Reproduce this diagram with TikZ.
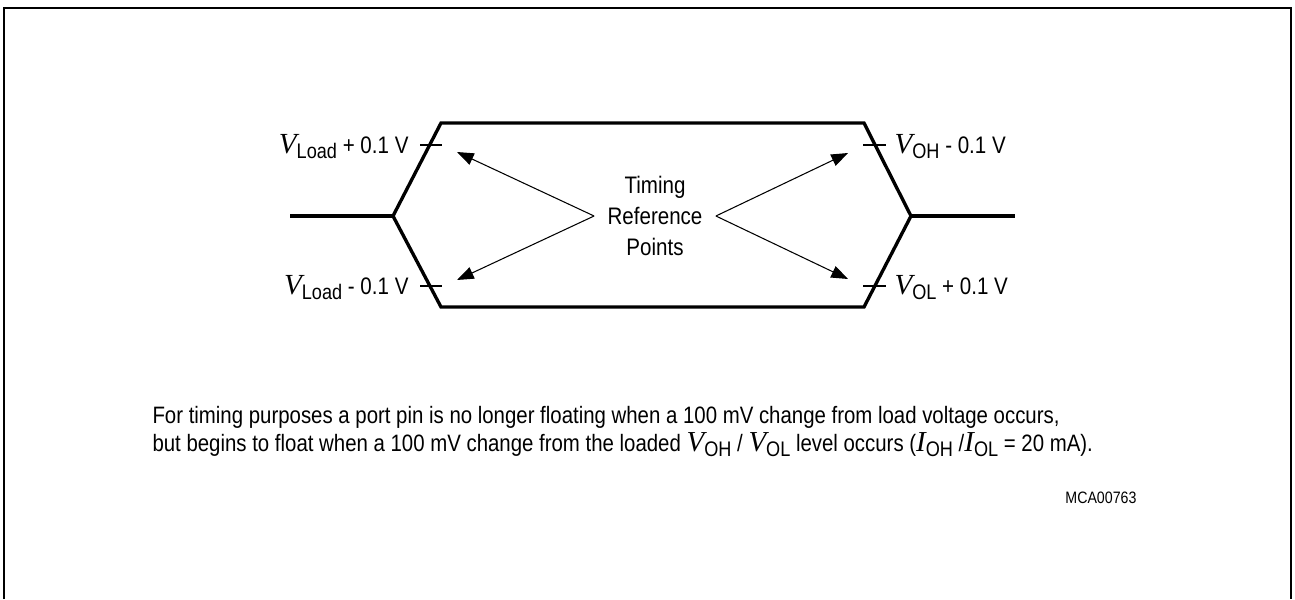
\documentclass[tikz,border=0pt]{standalone}
\usepackage{fontspec}
\setmainfont{Liberation Sans}[FakeStretch=0.86]
\newfontfamily\serifit{Liberation Serif}[Scale=1.22]
\usetikzlibrary{arrows.meta, positioning}
\newcommand{\vsym}[2]{{\serifit\itshape #1}\raisebox{-0.45ex}{\fontsize{12}{13}\selectfont #2}}
\tikzset{
  every picture/.style={line width=0.6pt},
  wave/.style={line width=1.9pt, line join=miter},
  tick/.style={line width=0.6pt},
  arrow/.style={-{Triangle[length=9.5pt, width=7pt]}, line width=0.6pt},
  lbl/.style={font=\fontsize{13.6}{17.6}\selectfont, inner sep=0pt},
  note/.style={font=\fontsize{13.5}{16}\selectfont, inner sep=0pt, anchor=base west},
}

\begin{document}
\begin{tikzpicture}[x=0.02cm, y=-0.02cm]
  \useasboundingbox (0,0) rectangle (1295,599);
  % frame
  \draw[line width=1.6pt] (4,599) -- (4,8) -- (1291,8) -- (1291,599);
  % waveform
  \coordinate (inl) at (290,216);
  \coordinate (xl) at (393,216);
  \coordinate (tl) at (441,123);
  \coordinate (tr) at (864,123);
  \coordinate (xr) at (911,216);
  \coordinate (outr) at (1015,216);
  \coordinate (bl) at (441,307);
  \coordinate (br) at (864,307);
  \draw[wave] (xl) -- (tl) -- (tr) -- (xr) -- (br) -- (bl) -- cycle;
  \draw[wave] (inl) -- (xl);
  \draw[wave] (xr) -- (outr);
  % level marks
  \draw[tick] (420,145) -- (442,145);
  \draw[tick] (420,286) -- (442,286);
  \draw[tick] (863,145) -- (886,145);
  \draw[tick] (863,286) -- (886,286);
  \node[lbl, anchor=base east] (vlp) at (409,153) {\vsym{V}{Load} + 0.1 V};
  \node[lbl, anchor=base east] (vlm) at (409,294) {\vsym{V}{Load} - 0.1 V};
  \node[lbl, anchor=base west] (vohm) at (894,153) {\vsym{V}{OH} - 0.1 V};
  \node[lbl, anchor=base west] (volp) at (894,294) {\vsym{V}{OL} + 0.1 V};
  % reference points
  \node[lbl, align=center, inner xsep=0.26cm] (trp) at (655,216) {Timing\\Reference\\Points};
  \coordinate (aul) at (457,152);
  \coordinate (all) at (457,280);
  \coordinate (aur) at (848,153);
  \coordinate (alr) at (848,279);
  \draw[arrow] (trp.west) -- (aul);
  \draw[arrow] (trp.west) -- (all);
  \draw[arrow] (trp.east) -- (aur);
  \draw[arrow] (trp.east) -- (alr);
  % note
  \node[note] (note1) at (152,423) {For timing purposes a port pin is no longer floating when a 100 mV change from load voltage occurs,};
  \node[note] (note2) at (152,451) {but begins to float when a 100 mV change from the loaded \vsym{V}{OH} / \vsym{V}{OL} level occurs (\vsym{I}{OH} /\vsym{I}{OL} = 20 mA).};
  \node[font=\fontsize{9.4}{11}\selectfont, inner sep=0pt, anchor=base east] (code) at (1137,503) {MCA00763};
\end{tikzpicture}
\end{document}
